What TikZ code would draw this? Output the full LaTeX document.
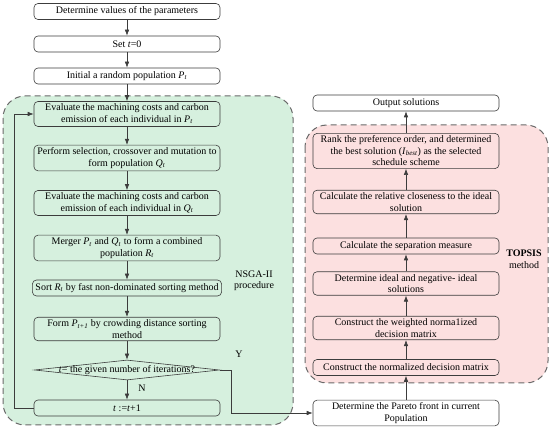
\documentclass[tikz,border=0pt]{standalone}
\usepackage{fontspec}
\setmainfont{Liberation Serif}
\usepackage{tikz}
\usetikzlibrary{shapes.geometric, arrows.meta, positioning, backgrounds}
\definecolor{nsgacolor}{RGB}{214,240,222}
\definecolor{topsiscolor}{RGB}{252,224,224}
\definecolor{edgecolor}{RGB}{60,60,60}
\definecolor{regioncolor}{RGB}{105,105,105}
\newcommand{\ivar}[2]{\textit{#1}\textsubscript{\textit{#2}}}

\begin{document}
\begin{tikzpicture}[
    x=1pt, y=-1pt,
    stepbox/.style={draw=edgecolor, line width=0.6pt, fill=#1, rounded corners=4pt, minimum width=186pt, minimum height=16pt, inner xsep=3pt, inner ysep=2.5pt, align=center, font=\fontsize{10}{11.5}\selectfont},
    stepbox/.default=none,
    decision/.style={draw=edgecolor, line width=0.6pt, diamond, minimum width=185pt, minimum height=20pt, inner sep=0pt},
    region/.style={draw=regioncolor, line width=1pt, dash pattern=on 6pt off 4pt, fill=#1, rounded corners=22pt},
    note/.style={align=center, font=\fontsize{10}{11.5}\selectfont},
    arr/.style={draw=edgecolor, line width=0.6pt, -{Latex[length=6pt,width=4.5pt]}}
]
    \useasboundingbox (0,0) rectangle (550,430);

    % Regions
    \draw[region=nsgacolor] (3,96) rectangle (293,425);
    \draw[region=topsiscolor] (305,125) rectangle (548,383);
    \node[note] (nsga) at (254,281) {NSGA-II\\procedure};
    \node[note] (topsis) at (524,259) {\textbf{TOPSIS}\\method};

    % NSGA-II steps
    \node[stepbox=white] (param) at (127,11.5) {Determine values of the parameters};
    \node[stepbox=white] (init) at (127,44) {Set \textit{t}=0};
    \node[stepbox=white] (pop) at (127,76) {Initial a random population \ivar{P}{t}};
    \node[stepbox] (evalP) at (127,114) {Evaluate the machining costs and carbon\\emission of each individual in \ivar{P}{t}};
    \node[stepbox] (select) at (127,158) {Perform selection, crossover and mutation to\\form population \ivar{Q}{t}};
    \node[stepbox] (evalQ) at (127,203) {Evaluate the machining costs and carbon\\emission of each individual in \ivar{Q}{t}};
    \node[stepbox] (merge) at (127,248) {Merger \ivar{P}{t} and \ivar{Q}{t} to form a combined\\population \ivar{R}{t}};
    \node[stepbox] (sort) at (127,288) {Sort \ivar{R}{t} by fast non-dominated sorting method};
    \node[stepbox] (form) at (127,329) {Form \ivar{P}{t+1} by crowding distance sorting\\method};
    \node[decision, label={[note]center:\textit{t}= the given number of iterations?}] (check) at (127,370) {};
    \node[stepbox] (incr) at (127,408) {\textit{t} :=\textit{t}+1};
    \node[note] (yes) at (239,354) {Y};
    \node[note] (no) at (142,388) {N};

    % TOPSIS steps
    \node[stepbox=white] (pareto) at (406,413) {Determine the Pareto front in current\\Population};
    \node[stepbox] (norm) at (406,367.5) {Construct the normalized decision matrix};
    \node[stepbox] (weight) at (406,328) {Construct the weighted norma1ized\\decision matrix};
    \node[stepbox] (ideal) at (406,283.5) {Determine ideal and negative- ideal\\solutions};
    \node[stepbox] (sep) at (406,246) {Calculate the separation measure};
    \node[stepbox] (close) at (406,202) {Calculate the relative closeness to the ideal\\solution};
    \node[stepbox] (rank) at (406,151) {Rank the preference order, and determined\\the best solution (\ivar{I}{best}) as the selected\\schedule scheme};
    \node[stepbox=white] (out) at (406,103) {Output solutions};

    % Connections
    \draw[arr] (param) -- (init);
    \draw[arr] (init) -- (pop);
    \draw[arr] (pop) -- (evalP);
    \draw[arr] (evalP) -- (select);
    \draw[arr] (select) -- (evalQ);
    \draw[arr] (evalQ) -- (merge);
    \draw[arr] (merge) -- (sort);
    \draw[arr] (sort) -- (form);
    \draw[arr] (form) -- (check);
    \draw[arr] (check) -- (incr);
    \draw[arr] (incr.west) -- ++(-19,0) |- (evalP.west);
    \draw[arr] (check.east) -- ++(11,0) |- (pareto.west);
    \draw[arr] (pareto) -- (norm);
    \draw[arr] (norm) -- (weight);
    \draw[arr] (weight) -- (ideal);
    \draw[arr] (ideal) -- (sep);
    \draw[arr] (sep) -- (close);
    \draw[arr] (close) -- (rank);
    \draw[arr] (rank) -- (out);
\end{tikzpicture}
\end{document}
